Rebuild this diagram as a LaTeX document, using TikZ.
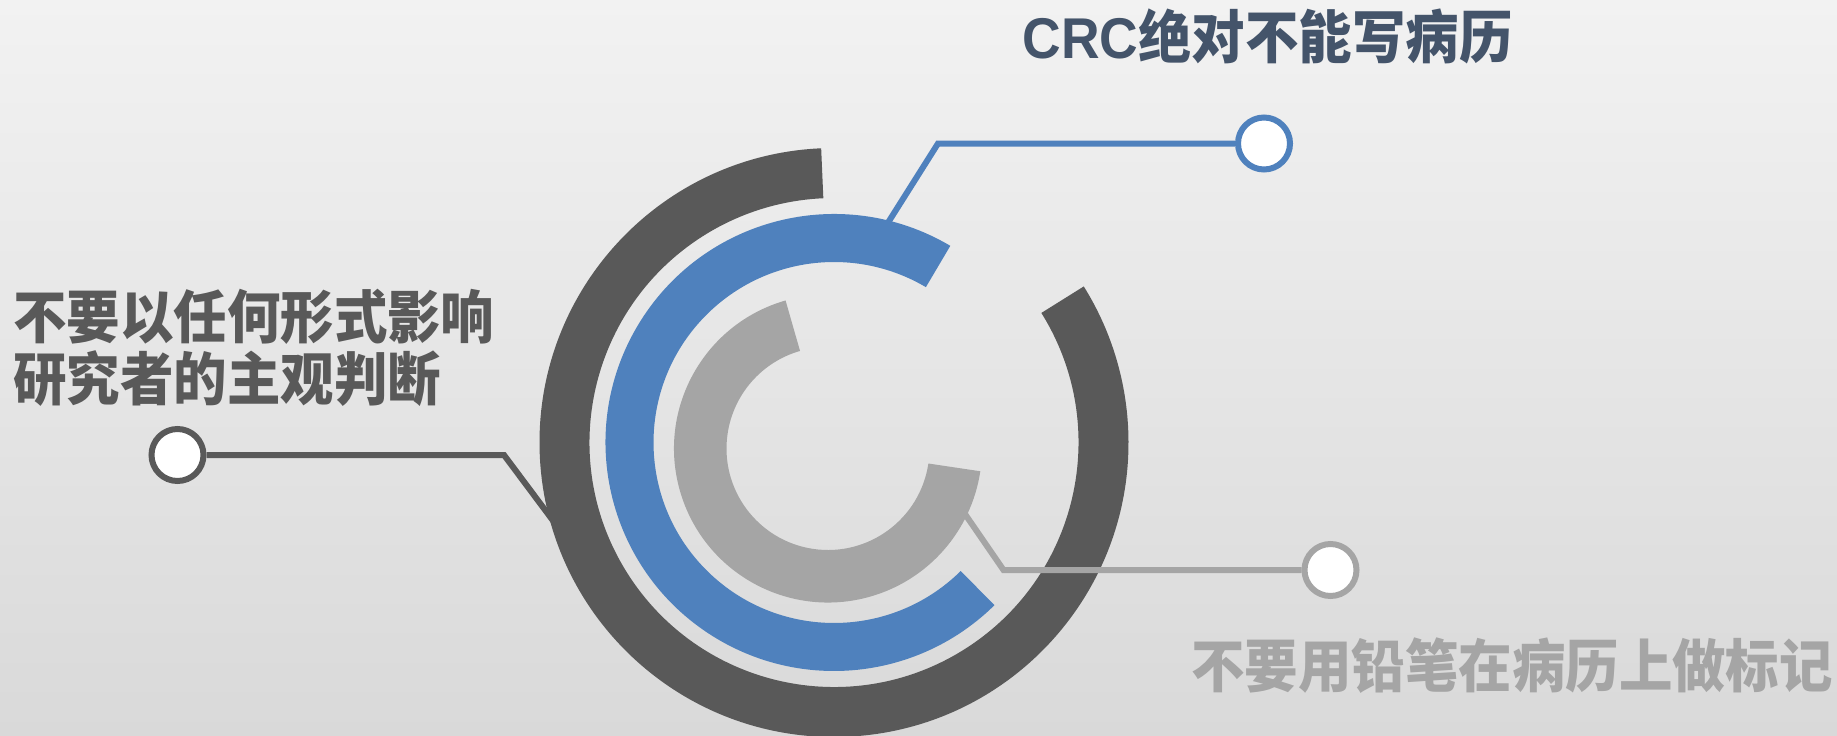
\documentclass[tikz,border=0pt]{standalone}
\usepackage{fontspec}
\newfontfamily\cjk{Noto Sans CJK SC}[FakeStretch=0.93]
\newfontfamily\latinb{Liberation Sans}[FakeStretch=0.93]
\usetikzlibrary{calc}
\definecolor{darkring}{HTML}{595959}
\definecolor{bluering}{HTML}{4F81BD}
\definecolor{grayring}{HTML}{A5A5A5}
\definecolor{titlecol}{HTML}{44546A}
\definecolor{bgtop}{HTML}{F2F2F2}
\definecolor{bgbot}{HTML}{D9D9D9}
\begin{document}
\begin{tikzpicture}[x=1pt,y=1pt,
  link/.style={draw=#1, line width=6pt, line join=miter},
  dot/.style={circle, draw=#1, fill=white, line width=6pt, minimum size=52pt, inner sep=0pt},
  lbl/.style={inner sep=0pt, font=\cjk\bfseries\fontsize{57.5}{66}\selectfont, text=#1}
]
\shade[top color=bgtop, bottom color=bgbot] (0,0) rectangle (1837,-736);
\useasboundingbox (0,0) rectangle (1837,-736);

\coordinate (C) at (834,-442.5);
\coordinate (G) at (828,-448.5);

% connector anchor points
\coordinate (dA) at ($(C)+(197.5:288)$);
\coordinate (dK) at (504,-455);
\coordinate (bA) at ($(C)+(76.4:224)$);
\coordinate (bK) at (938,-143.5);
\coordinate (gA) at ($(G)+(-24.7:148)$);
\coordinate (gK) at (1003.5,-570);

% rings
\begin{scope}[shift={(C)}]
  \fill[darkring] (92.5:294.5) arc[start angle=92.5, end angle=392, radius=294.5]
    -- (392:244.5) arc[start angle=392, end angle=92.5, radius=244.5] -- cycle;
  \fill[bluering] (59.4:228.5) arc[start angle=59.4, end angle=314.6, radius=228.5]
    -- (314.6:180.5) arc[start angle=314.6, end angle=59.4, radius=180.5] -- cycle;
\end{scope}
\begin{scope}[shift={(G)}]
  \fill[grayring] (106:154) arc[start angle=106, end angle=351.5, radius=154]
    -- (351.5:101.5) arc[start angle=351.5, end angle=106, radius=101.5] -- cycle;
\end{scope}

% end circles
\node[dot=darkring] (d1) at (177.5,-455) {};
\node[dot=bluering] (b1) at (1264,-143.5) {};
\node[dot=grayring] (g1) at (1330.5,-570) {};

% connectors
\draw[link=darkring] (dA) -- (dK) -- (d1);
\draw[link=bluering] (bA) -- (bK) -- (b1);
\draw[link=grayring] (gA) -- (gK) -- (g1);

% labels
\node[lbl=titlecol, anchor=base] (t1) at (1267.5,-58.5) {{\latinb CRC}绝对不能写病历};
\node[lbl=darkring, anchor=base west] (t2) at (13,-338) {不要以任何形式影响};
\node[lbl=darkring, anchor=base west] (t3) at (13,-400) {研究者的主观判断};
\node[lbl=grayring, anchor=base west] (t4) at (1191,-687.5) {不要用铅笔在病历上做标记};
\end{tikzpicture}
\end{document}
